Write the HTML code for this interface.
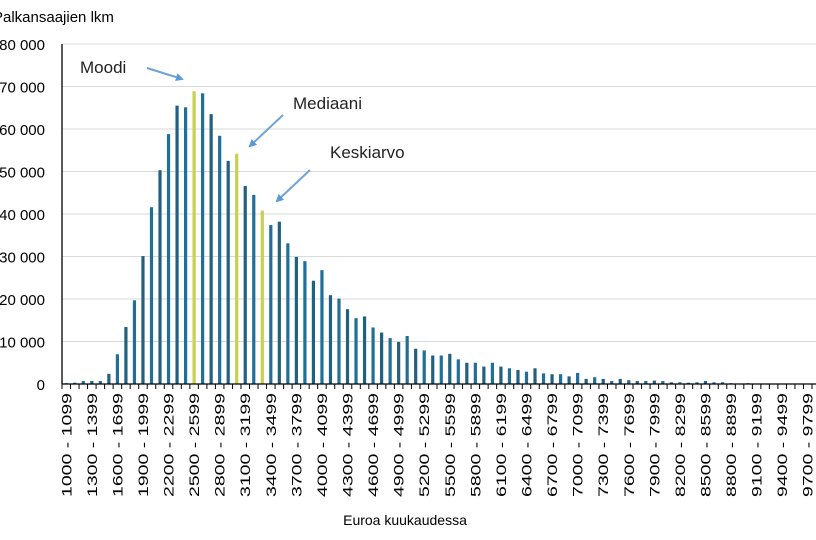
<!DOCTYPE html>
<html><head><meta charset="utf-8"><style>
html,body{margin:0;padding:0;background:#fff;}
svg{display:block;font-family:"Liberation Sans",sans-serif;}
</style></head><body>
<svg id="chart" width="816" height="540" viewBox="0 0 816 540" xmlns="http://www.w3.org/2000/svg">
<text x="-7" y="22" font-size="15" fill="#000">Palkansaajien lkm</text>
<text x="405" y="525" font-size="14" text-anchor="middle" fill="#000">Euroa kuukaudessa</text>
<g id="grid"></g><g id="bars"></g><g id="axes"></g>
<g font-size="17" fill="#222">
<text x="80" y="73">Moodi</text>
<text x="293" y="109">Mediaani</text>
<text x="330" y="158">Keskiarvo</text>
</g>
<defs><marker id="ah" markerWidth="8" markerHeight="8" refX="6" refY="4" orient="auto" markerUnits="userSpaceOnUse" viewBox="0 0 8 8"><path d="M0,0 L8,4 L0,8 z" fill="#5b9bd5"/></marker></defs>
<g stroke="#6fa3d4" stroke-width="2" fill="none">
<line x1="147" y1="68" x2="182" y2="79" marker-end="url(#ah)"/>
<line x1="283" y1="115" x2="250" y2="146" marker-end="url(#ah)"/>
<line x1="310" y1="170" x2="277" y2="201" marker-end="url(#ah)"/>
</g>
</svg>
<script>
const binStarts = [1000,1100,1200,1300,1400,1500,1600,1700,1800,1900,2000,2100,2200,2300,2400,2500,2600,2700,2800,2900,3000,3100,3200,3300,3400,3500,3600,3700,3800,3900,4000,4100,4200,4300,4400,4500,4600,4700,4800,4900,5000,5100,5200,5300,5400,5500,5600,5700,5800,5900,6000,6100,6200,6300,6400,6500,6600,6700,6800,6900,7000,7100,7200,7300,7400,7500,7600,7700,7800,7900,8000,8100,8200,8300,8400,8500,8600,8700,8800,8900,9000,9100,9200,9300,9400,9500,9600,9700];
const counts = [200,300,700,700,700,2400,7000,13400,19700,30100,41600,50300,58800,65500,65100,68900,68400,63500,58400,52500,54200,46600,44500,40800,37400,38200,33100,29900,28900,24300,26800,20900,20100,17600,15500,15900,13300,12100,10800,9900,11300,8300,7900,6700,6700,7100,5800,5000,5000,4100,5000,4100,3700,3300,2900,3700,2500,2300,2300,1800,2600,1200,1600,1200,700,1200,900,700,700,800,700,400,400,300,400,700,400,400,200,100,200,100,100,100,100,100,100,100];
const highlightBins = [2500,3000,3300];
const yTicks = [0,10000,20000,30000,40000,50000,60000,70000,80000];
const yTickLabels = ["0","10 000","20 000","30 000","40 000","50 000","60 000","70 000","80 000"];

const NS="http://www.w3.org/2000/svg";
const x0=62, x1=812, yBase=384, yTop=44, yMax=80000;
const step=(x1-x0)/binStarts.length;
const xc=i=>x0+step*(i+0.5);
const yS=v=>yBase-(v/yMax)*(yBase-yTop);
function mk(tag,attrs,parent){const e=document.createElementNS(NS,tag);for(const k in attrs)e.setAttribute(k,attrs[k]);parent.appendChild(e);return e;}
const grid=document.getElementById('grid'),bars=document.getElementById('bars'),axes=document.getElementById('axes');
yTicks.forEach((t,i)=>{
  if(t>0){const l=mk('line',{x1:x0,x2:816,y1:yS(t),y2:yS(t),stroke:'#d9d9d9','stroke-width':1},grid);
  
  }
  const tx=mk('text',{x:45,y:yS(t)+6,'font-size':15,'text-anchor':'end',fill:'#000'},axes);
  tx.textContent=yTickLabels[i];
  
  
});
counts.forEach((c,i)=>{
  const hl=highlightBins.includes(binStarts[i]);
  const r=mk('rect',{x:xc(i)-1.6,y:yS(c),width:3.2,height:yBase-yS(c),fill:hl?'#c9cf4f':(i%2?'#22607f':'#1f6f98')},bars);
  
  
});
const ax=mk('line',{x1:x0,x2:x0,y1:yTop,y2:yBase,stroke:'#000','stroke-width':1.3},axes);


const bx=mk('line',{x1:x0,x2:816,y1:yBase,y2:yBase,stroke:'#000','stroke-width':1.3},axes);


for(let i=0;i<=binStarts.length;i++){
  const t=mk('line',{x1:x0+step*i,x2:x0+step*i,y1:yBase,y2:yBase+5,stroke:'#000','stroke-width':1},axes);
  
  
}
binStarts.forEach((b,i)=>{
  if(i%3!==0)return;
  const x=xc(i)+5;
  const tx=mk('text',{x:0,y:0,'font-size':14,fill:'#000','text-anchor':'end',transform:`translate(${x},393) rotate(-90)`,textLength:104,lengthAdjust:'spacingAndGlyphs'},axes);
  tx.textContent=b+' - '+(b+99);
  
  
});
</script>
</body></html>
